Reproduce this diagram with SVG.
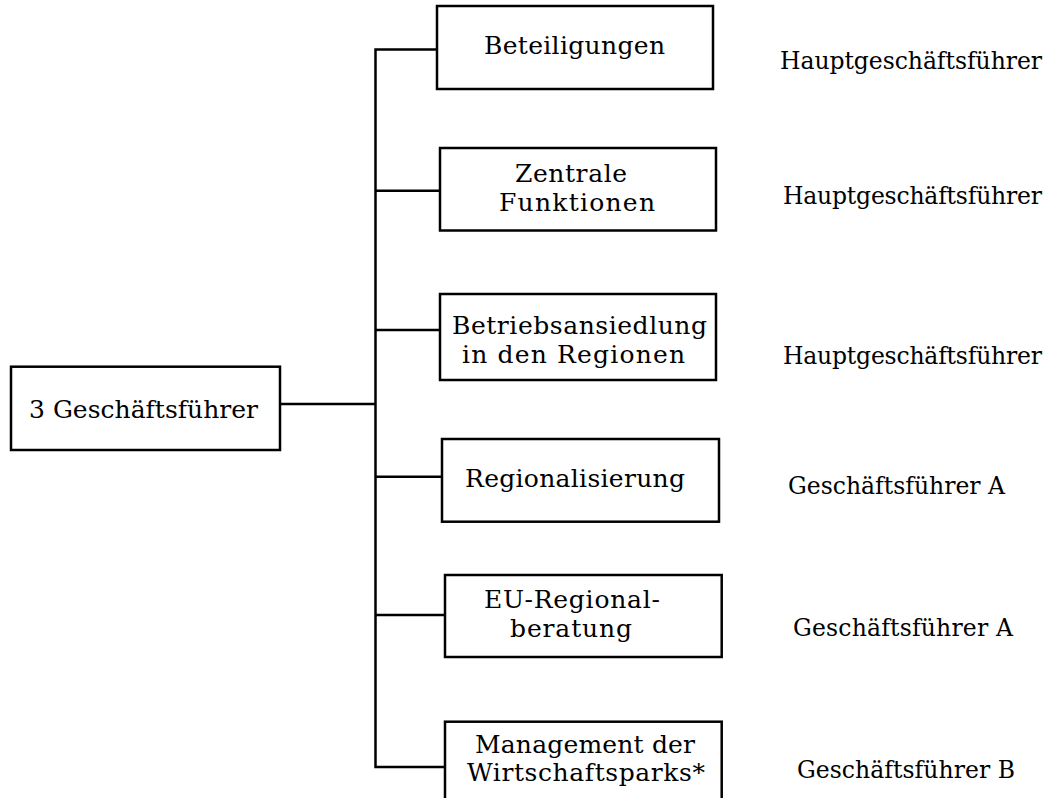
<svg xmlns="http://www.w3.org/2000/svg" width="1060" height="798" viewBox="0 0 1060 798">
<style>
.box{fill:#fff;stroke:#000;stroke-width:2.5}
.ln{fill:none;stroke:#000;stroke-width:2.5}
text{font-family:"DejaVu Serif","Liberation Serif",serif;font-size:23.5px;fill:#000}
.bt{font-size:25px}
</style>
<rect width="1060" height="798" fill="#fff"/>
<g id="connectors">
<path class="ln" d="M437,49.5 H375.5 V767 H445"/>
<path class="ln" d="M280,404 H375.5"/>
<path class="ln" d="M375.5,190.7 H440"/>
<path class="ln" d="M375.5,330 H440"/>
<path class="ln" d="M375.5,476.7 H442"/>
<path class="ln" d="M375.5,615 H445"/>
</g>
<g id="root"><rect class="box" x="11" y="366.7" width="269" height="83.3"/><text class="bt" x="29" y="418" textLength="229">3 Geschäftsführer</text></g>
<g id="n1"><rect class="box" x="437" y="6" width="276" height="83"/><text class="bt" x="484" y="54" textLength="181">Beteiligungen</text></g>
<g id="n2"><rect class="box" x="440" y="148" width="276" height="82.5"/><text class="bt" x="515" y="182" textLength="112">Zentrale</text><text class="bt" x="499" y="211" textLength="156">Funktionen</text></g>
<g id="n3"><rect class="box" x="440" y="294" width="276" height="86"/><text class="bt" x="452" y="334" textLength="255">Betriebsansiedlung</text><text class="bt" x="462" y="363" textLength="223">in den Regionen</text></g>
<g id="n4"><rect class="box" x="442" y="439" width="277" height="82.7"/><text class="bt" x="465" y="487" textLength="220">Regionalisierung</text></g>
<g id="n5"><rect class="box" x="445" y="575" width="276.7" height="82"/><text class="bt" x="484" y="608" textLength="176">EU-Regional-</text><text class="bt" x="510" y="637" textLength="122">beratung</text></g>
<g id="n6"><rect class="box" x="445" y="721.7" width="276.7" height="90"/><text class="bt" x="475" y="753" textLength="220">Management der</text><text class="bt" x="467" y="781" textLength="238">Wirtschaftsparks*</text></g>
<g id="labels">
<text x="780" y="69" textLength="262">Hauptgeschäftsführer</text>
<text x="783" y="204" textLength="259">Hauptgeschäftsführer</text>
<text x="783" y="364" textLength="259">Hauptgeschäftsführer</text>
<text x="788" y="494" textLength="217">Geschäftsführer A</text>
<text x="793" y="636" textLength="220">Geschäftsführer A</text>
<text x="797" y="778" textLength="218">Geschäftsführer B</text>
</g>
</svg>
